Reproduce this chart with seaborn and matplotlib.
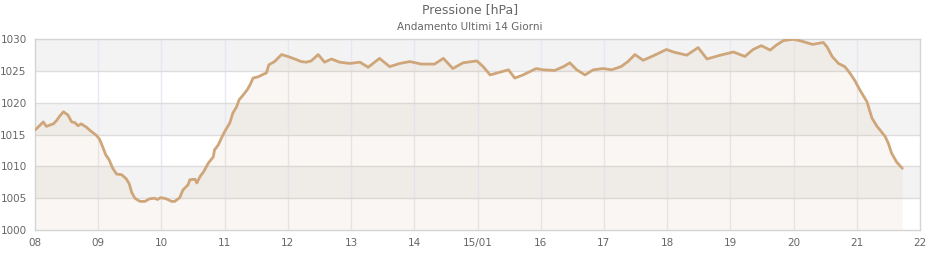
import matplotlib
matplotlib.use("Agg")
import matplotlib.pyplot as plt
import seaborn as sns
import pandas as pd

days = [8.01, 8.13, 8.18, 8.29, 8.34, 8.39, 8.45, 8.52, 8.58, 8.63, 8.68, 8.73, 8.81, 8.89, 8.97,
        9.02, 9.07, 9.12, 9.17, 9.23, 9.29, 9.37, 9.44, 9.49, 9.53, 9.58, 9.66, 9.74, 9.81, 9.89,
        9.94, 9.99, 10.08, 10.16, 10.21, 10.29, 10.34, 10.42, 10.45, 10.53, 10.56, 10.61, 10.67,
        10.74, 10.82, 10.84, 10.90, 10.97, 11.03, 11.08, 11.13, 11.19, 11.23, 11.29, 11.36, 11.40,
        11.45, 11.53, 11.61, 11.66, 11.70, 11.79, 11.90, 12.00, 12.11, 12.21, 12.29, 12.37, 12.48,
        12.58, 12.69, 12.82, 12.98, 13.14, 13.27, 13.45, 13.61, 13.77, 13.93, 14.11, 14.32, 14.46,
        14.61, 14.77, 14.99, 15.09, 15.20, 15.38, 15.49, 15.59, 15.72, 15.93, 16.04, 16.22, 16.36,
        16.46, 16.57, 16.70, 16.83, 16.99, 17.12, 17.27, 17.38, 17.49, 17.62, 17.78, 17.99, 18.10,
        18.31, 18.49, 18.63, 18.84, 19.05, 19.23, 19.36, 19.49, 19.63, 19.73, 19.84, 20.00, 20.13,
        20.30, 20.47, 20.53, 20.61, 20.71, 20.81, 20.89, 20.97, 21.05, 21.16, 21.24, 21.32, 21.45,
        21.50, 21.55, 21.63, 21.72]
pressure = [1015.8, 1017.0, 1016.3, 1016.7, 1017.2, 1017.9, 1018.6, 1018.1, 1017.0, 1016.9, 1016.4,
            1016.7, 1016.2, 1015.5, 1014.9, 1014.3, 1013.1, 1011.8, 1011.1, 1009.7, 1008.8, 1008.7,
            1008.1, 1007.3, 1005.9, 1005.0, 1004.5, 1004.5, 1004.9, 1005.0, 1004.8, 1005.1, 1004.9,
            1004.5, 1004.5, 1005.1, 1006.3, 1007.1, 1007.9, 1008.0, 1007.4, 1008.4, 1009.2, 1010.5,
            1011.5, 1012.6, 1013.4, 1014.9, 1016.0, 1016.8, 1018.4, 1019.4, 1020.5, 1021.2, 1022.1,
            1022.8, 1023.9, 1024.1, 1024.5, 1024.7, 1026.0, 1026.5, 1027.6, 1027.3, 1026.9, 1026.5,
            1026.4, 1026.6, 1027.6, 1026.4, 1026.9, 1026.4, 1026.2, 1026.4, 1025.6, 1027.0, 1025.7,
            1026.2, 1026.5, 1026.1, 1026.1, 1027.0, 1025.4, 1026.3, 1026.6, 1025.7, 1024.4, 1024.9,
            1025.2, 1023.9, 1024.4, 1025.4, 1025.2, 1025.1, 1025.7, 1026.3, 1025.2, 1024.4, 1025.2,
            1025.4, 1025.2, 1025.7, 1026.5, 1027.6, 1026.7, 1027.4, 1028.4, 1028.0, 1027.5, 1028.7,
            1026.9, 1027.5, 1028.0, 1027.3, 1028.4, 1029.0, 1028.3, 1029.1, 1029.8, 1030.0, 1029.7,
            1029.2, 1029.5, 1028.8, 1027.3, 1026.2, 1025.7, 1024.7, 1023.5, 1022.0, 1020.2, 1017.6,
            1016.3, 1014.7, 1013.6, 1012.1, 1010.7, 1009.7]
tick_days = [8, 9, 10, 11, 12, 13, 14, 15, 16, 17, 18, 19, 20, 21, 22]
tick_labels = ["08", "09", "10", "11", "12", "13", "14", "15/01", "16", "17", "18", "19", "20", "21", "22"]
y_ticks = [1000, 1005, 1010, 1015, 1020, 1025, 1030]
band_lows = [1005, 1015, 1025]

df = pd.DataFrame({"day": days, "pressure": pressure})

sns.set_theme(style="white")
plt.rcParams["font.family"] = ["DejaVu Sans"]

line_color = "#cfa67a"
text_color = "#666666"

fig = plt.figure(figsize=(9.4, 2.6), dpi=100)
ax = fig.add_axes([35 / 940, 1 - 230 / 260, 885 / 940, (230 - 39.3) / 260])
ax.set_facecolor("white")

for lo in band_lows:
    ax.axhspan(lo, lo + 5, color="#f3f3f3", zorder=0, lw=0)

ax.fill_between(df["day"], df["pressure"], 1000, color=line_color, alpha=0.09, lw=0, zorder=1)
sns.lineplot(data=df, x="day", y="pressure", ax=ax, color=line_color, lw=2.0, zorder=3)

ax.set_xlim(8, 22)
ax.set_ylim(1000, 1030)
ax.set_xticks(tick_days)
ax.set_xticklabels(tick_labels)
ax.set_yticks(y_ticks)
ax.set_yticklabels([str(v) for v in y_ticks])
ax.tick_params(axis="both", length=0, labelsize=7.5, labelcolor=text_color)
ax.tick_params(axis="x", pad=6)
ax.tick_params(axis="y", pad=6)
ax.set_xlabel("")
ax.set_ylabel("")

for v in tick_days[1:-1]:
    ax.axvline(v, color="#e8e8f4", lw=1, zorder=0.5)
for v in y_ticks[1:-1]:
    ax.axhline(v, color="#dddddd", lw=1, zorder=0.6)

for s in ax.spines.values():
    s.set_color("#d4d4d4")
    s.set_linewidth(1)
    s.set_visible(True)

fig.text(470 / 940, 1 - 10 / 260, "Pressione [hPa]", ha="center", va="center",
         fontsize=9, color=text_color)
fig.text(470 / 940, 1 - 27 / 260, "Andamento Ultimi 14 Giorni", ha="center", va="center",
         fontsize=7.5, color=text_color)

fig.savefig("out.png", dpi=100)
